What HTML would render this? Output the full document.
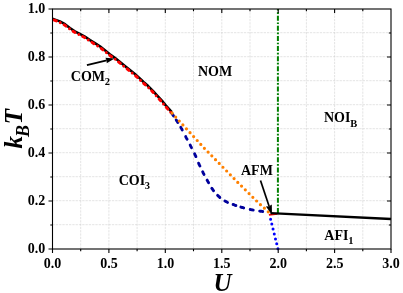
<!DOCTYPE html>
<html><head><meta charset="utf-8"><style>
html,body{margin:0;padding:0;background:#fff;}
svg{display:block;will-change:transform}
text{font-family:"Liberation Serif",serif;font-weight:bold;fill:#000}
</style></head><body>
<svg width="403" height="293" viewBox="0 0 403 293">
<rect width="403" height="293" fill="#fff"/>
<path d="M80.7 9.0V249.0M108.9 9.0V249.0M137.1 9.0V249.0M165.3 9.0V249.0M193.5 9.0V249.0M221.8 9.0V249.0M250.0 9.0V249.0M278.2 9.0V249.0M306.4 9.0V249.0M334.6 9.0V249.0M362.8 9.0V249.0M52.5 224.7H391.0M52.5 200.7H391.0M52.5 176.7H391.0M52.5 152.7H391.0M52.5 128.7H391.0M52.5 104.7H391.0M52.5 80.7H391.0M52.5 56.7H391.0M52.5 32.7H391.0" stroke="#c8c8c8" stroke-width="0.5" stroke-dasharray="2.3 1" fill="none"/>
<path d="M52.3 18.7 L59.9 21.4 L65.0 24.2 L69.9 28.0 L74.8 31.3 L79.8 33.9 L84.8 36.6 L90.0 40.1 L94.9 43.2 L99.9 46.3 L104.9 50.3 L109.8 54.3 L114.8 57.8 L120.0 62.0 L124.9 66.0 L129.9 70.0 L134.9 74.0 L139.8 78.4 L143.5 82.0 L147.9 85.8 L152.9 90.8 L157.9 96.3 L162.8 101.7 L165.3 104.9 L171.8 112.2" stroke="#000" stroke-width="2.6" fill="none" stroke-linejoin="round"/>
<path d="M54.1 20.1 L59.3 22.1 L64.4 24.9 L69.3 28.7 L74.2 32.0 L79.2 34.6 L84.2 37.3 L89.4 40.8 L94.3 43.9 L99.3 47.0 L104.3 51.0 L109.2 55.0 L114.2 58.5 L119.4 62.7 L124.3 66.7 L129.3 70.7 L134.3 74.7 L139.2 79.1 L142.9 82.7 L147.3 86.5 L152.3 91.5 L157.3 97.0 L162.2 102.4 L164.7 105.6 L171.2 112.9" stroke="#f00" stroke-width="2.9" stroke-dasharray="2.4 4.3 0.01 4.3" stroke-linecap="round" fill="none" stroke-linejoin="round"/>
<path d="M172.0 113.5 L172.4 114.2 L172.8 114.8 L173.2 115.4 L173.6 116.1M176.2 119.9 L176.6 120.6 L177.0 121.2 L177.4 121.8 L177.8 122.5M180.8 127.3 L181.1 127.9 L181.5 128.6 L181.9 129.3 L182.2 129.9M185.7 136.6 L186.0 137.3 L186.3 137.9 L186.7 138.6 L187.1 139.3M190.2 145.1 L190.5 145.7 L190.8 146.4 L191.2 147.1 L191.5 147.7M194.6 153.8 L194.9 154.5 L195.2 155.2 L195.6 155.9 L195.9 156.6M198.6 163.2 L198.9 163.9 L199.2 164.6 L199.6 165.3 L199.9 166.0M202.7 171.8 L203.0 172.4 L203.3 173.1 L203.7 173.8 L204.0 174.4M207.1 180.1 L207.5 180.7 L207.8 181.4 L208.2 182.1 L208.6 182.7M211.8 188.3 L212.3 188.9 L212.7 189.5 L213.1 190.1 L213.6 190.7M217.6 195.4 L218.2 195.9 L218.7 196.4 L219.3 196.9 L219.8 197.4M224.9 201.0 L225.5 201.3 L226.2 201.7 L226.9 202.0 L227.5 202.4M233.1 204.5 L233.8 204.7 L234.5 205.0 L235.2 205.3 L235.9 205.5M240.9 207.1 L241.6 207.3 L242.3 207.5 L243.0 207.7 L243.7 207.9M250.2 209.5 L251.0 209.6 L251.7 209.8 L252.4 209.9 L253.2 210.1M259.7 211.1 L260.5 211.2 L261.2 211.3 L261.9 211.4 L262.7 211.5" stroke="#00009c" stroke-width="2.9" fill="none" stroke-linejoin="round" stroke-linecap="round"/>
<path d="M172.1 113.2L186 128.3L204.3 148.2L237.8 182.4L258.3 202.7L265.9 209.6L270 213.6" stroke="#ff8000" stroke-width="3.2" stroke-dasharray="0 5.3" stroke-linecap="round" stroke-linejoin="round" fill="none"/>
<path d="M270.6 219.2L278 249" stroke="#0000ff" stroke-width="3" stroke-dasharray="0 5.07" stroke-linecap="round" fill="none"/>
<path d="M277.9 9.0V214.4" stroke="#008000" stroke-width="2" stroke-dasharray="5 1.7 1.7 1.716" stroke-dashoffset="3.416" fill="none"/>
<path d="M268.9 214.9L277.4 213.9" stroke="#f00" stroke-width="1.8" fill="none"/>
<path d="M270.5 213.1L391.0 219" stroke="#000" stroke-width="2.4" fill="none"/>
<rect x="52.5" y="9.0" width="338.5" height="240.0" fill="none" stroke="#000" stroke-width="1.1"/>
<path d="M52.5 249.0v4M80.7 249.0v2.2M80.7 9.0v2.2M108.9 249.0v4M108.9 9.0v4M137.1 249.0v2.2M137.1 9.0v2.2M165.3 249.0v4M165.3 9.0v4M193.5 249.0v2.2M193.5 9.0v2.2M221.8 249.0v4M221.8 9.0v4M250.0 249.0v2.2M250.0 9.0v2.2M278.2 249.0v4M278.2 9.0v4M306.4 249.0v2.2M306.4 9.0v2.2M334.6 249.0v4M334.6 9.0v4M362.8 249.0v2.2M362.8 9.0v2.2M391.0 249.0v4M52.5 249.0h-4M52.5 225.0h-2.2M391.0 225.0h-2.2M52.5 201.0h-4M391.0 201.0h-4M52.5 177.0h-2.2M391.0 177.0h-2.2M52.5 153.0h-4M391.0 153.0h-4M52.5 129.0h-2.2M391.0 129.0h-2.2M52.5 105.0h-4M391.0 105.0h-4M52.5 81.0h-2.2M391.0 81.0h-2.2M52.5 57.0h-4M391.0 57.0h-4M52.5 33.0h-2.2M391.0 33.0h-2.2M52.5 9.0h-4" stroke="#000" stroke-width="1.1" fill="none"/>
<g><text x="52.6" y="267.7" font-size="14" text-anchor="middle">0.0</text>
<text x="109.0" y="267.7" font-size="14" text-anchor="middle">0.5</text>
<text x="165.4" y="267.7" font-size="14" text-anchor="middle">1.0</text>
<text x="221.8" y="267.7" font-size="14" text-anchor="middle">1.5</text>
<text x="278.3" y="267.7" font-size="14" text-anchor="middle">2.0</text>
<text x="334.7" y="267.7" font-size="14" text-anchor="middle">2.5</text>
<text x="391.1" y="267.7" font-size="14" text-anchor="middle">3.0</text>
<text x="45.2" y="253.3" font-size="14" text-anchor="end">0.0</text>
<text x="45.2" y="205.3" font-size="14" text-anchor="end">0.2</text>
<text x="45.2" y="157.3" font-size="14" text-anchor="end">0.4</text>
<text x="45.2" y="109.3" font-size="14" text-anchor="end">0.6</text>
<text x="45.2" y="61.3" font-size="14" text-anchor="end">0.8</text>
<text x="45.2" y="13.3" font-size="14" text-anchor="end">1.0</text>
<text x="222.5" y="290.5" font-size="25" font-style="italic" text-anchor="middle">U</text>
<text transform="translate(21.6,148.6) rotate(-90)" font-size="25" font-style="italic">k<tspan font-size="18" dy="7.5" dx="-1">B</tspan><tspan dy="-7.5" dx="0.8">T</tspan></text>
<text x="70.8" y="81" font-size="14">COM<tspan font-size="10.5" dy="4.2" dx="-0.3">2</tspan></text>
<text x="198" y="75.5" font-size="14">NOM</text>
<text x="324" y="122.3" font-size="14">NOI<tspan font-size="10.5" dy="4.2" dx="-0.3">B</tspan></text>
<text x="118.7" y="184.6" font-size="14">COI<tspan font-size="10.5" dy="4.2" dx="-0.3">3</tspan></text>
<text x="241" y="175.4" font-size="14">AFM</text>
<text x="324.3" y="239.6" font-size="14">AFI<tspan font-size="10.5" dy="4.2" dx="-0.3">1</tspan></text>
</g><path d="M86.9 65.1L106.7 60.4" stroke="#000" stroke-width="1.9" fill="none"/><path d="M114.6 58.5L106.7 63.3L106.7 60.4L105.4 57.8Z" fill="#000"/>
<path d="M260.5 180.5L269.1 206.3" stroke="#000" stroke-width="1.7" fill="none"/><path d="M272.0 214.8L265.9 206.5L269.1 206.3L271.8 204.5Z" fill="#000"/>
</svg></body></html>
